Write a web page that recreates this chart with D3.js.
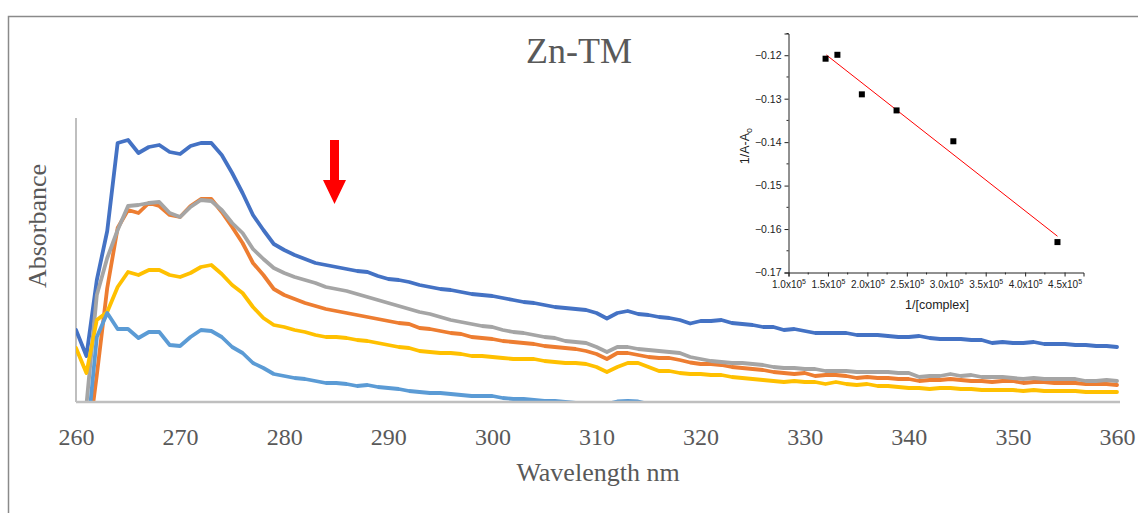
<!DOCTYPE html>
<html>
<head>
  <meta charset="utf-8">
  <title>Zn-TM</title>
  <script src="https://d3js.org/d3.v7.min.js"></script>
  <style>
    body { margin: 0; background: #fff; }
    svg { display: block; }
  </style>
</head>
<body>
<svg id="chart" width="1138" height="513"></svg>
<script>
    // wavelength grid, 1 nm steps
    var wavelengths = d3.range(260, 361);

    // absorbance spectra (260..360 nm)
    var seriesBlue = [0.72,0.46,1.22,1.71,2.59,2.62,2.49,2.55,2.57,2.50,2.48,2.56,2.59,2.59,2.47,2.29,2.09,1.87,1.72,1.58,
        1.52,1.47,1.43,1.39,1.37,1.35,1.33,1.31,1.30,1.26,1.23,1.22,1.20,1.17,1.15,1.13,1.12,1.10,1.08,1.07,
        1.06,1.04,1.02,1.00,0.99,0.97,0.95,0.94,0.93,0.92,0.89,0.835,0.89,0.91,0.88,0.87,0.85,0.84,0.82,0.785,
        0.81,0.81,0.82,0.79,0.78,0.77,0.75,0.75,0.72,0.73,0.71,0.69,0.69,0.69,0.69,0.67,0.67,0.67,0.66,0.65,
        0.65,0.66,0.64,0.63,0.63,0.63,0.62,0.62,0.59,0.60,0.59,0.59,0.60,0.58,0.58,0.58,0.57,0.57,0.56,0.56,0.55];
    var seriesOrange = [-0.78,-0.54,0.27,1.14,1.74,1.92,1.89,1.99,1.96,1.87,1.85,1.96,2.03,2.03,1.90,1.75,1.59,1.39,1.27,1.13,
        1.07,1.03,0.99,0.96,0.93,0.91,0.89,0.87,0.85,0.83,0.81,0.79,0.78,0.74,0.73,0.71,0.69,0.68,0.65,0.64,
        0.63,0.61,0.60,0.59,0.58,0.56,0.55,0.54,0.53,0.51,0.48,0.43,0.49,0.49,0.47,0.45,0.44,0.44,0.42,0.395,
        0.38,0.38,0.37,0.35,0.34,0.33,0.32,0.30,0.29,0.28,0.29,0.26,0.27,0.27,0.26,0.24,0.25,0.24,0.24,0.23,
        0.23,0.21,0.22,0.22,0.23,0.22,0.21,0.21,0.20,0.21,0.21,0.19,0.20,0.20,0.19,0.19,0.19,0.18,0.18,0.18,0.17];
    var seriesGray = [-0.38,-0.03,1.07,1.44,1.72,1.96,1.97,1.99,2.00,1.89,1.85,1.95,2.02,2.01,1.92,1.79,1.69,1.53,1.43,1.34,
        1.29,1.25,1.22,1.19,1.15,1.13,1.11,1.08,1.05,1.02,0.99,0.96,0.93,0.90,0.88,0.85,0.82,0.80,0.78,0.76,
        0.75,0.72,0.70,0.69,0.67,0.65,0.64,0.61,0.60,0.59,0.55,0.50,0.55,0.55,0.53,0.52,0.51,0.50,0.49,0.45,
        0.43,0.41,0.40,0.39,0.39,0.38,0.37,0.35,0.34,0.34,0.33,0.33,0.31,0.31,0.31,0.30,0.30,0.30,0.30,0.29,
        0.29,0.25,0.26,0.26,0.28,0.26,0.27,0.25,0.25,0.25,0.24,0.23,0.24,0.23,0.23,0.23,0.23,0.21,0.21,0.22,0.21];
    var seriesYellow = [0.54,0.29,0.82,0.90,1.15,1.30,1.27,1.32,1.32,1.27,1.25,1.29,1.35,1.37,1.28,1.17,1.09,0.95,0.84,0.77,
        0.75,0.72,0.70,0.67,0.65,0.65,0.64,0.62,0.61,0.59,0.57,0.55,0.54,0.51,0.50,0.49,0.49,0.48,0.46,0.46,
        0.45,0.44,0.43,0.43,0.43,0.41,0.40,0.39,0.39,0.38,0.35,0.30,0.35,0.39,0.39,0.35,0.31,0.31,0.29,0.28,
        0.28,0.27,0.27,0.25,0.24,0.23,0.22,0.21,0.20,0.21,0.20,0.20,0.18,0.20,0.18,0.17,0.18,0.16,0.16,0.15,
        0.14,0.14,0.13,0.14,0.14,0.13,0.13,0.12,0.12,0.12,0.12,0.11,0.12,0.11,0.11,0.11,0.11,0.10,0.10,0.10,0.10];
    var seriesLightBlue = [-0.28,-0.43,0.65,0.89,0.73,0.73,0.64,0.70,0.70,0.57,0.56,0.65,0.72,0.71,0.65,0.55,0.49,0.39,0.34,0.28,
        0.26,0.24,0.23,0.21,0.19,0.19,0.18,0.16,0.17,0.15,0.14,0.13,0.11,0.10,0.09,0.09,0.08,0.07,0.06,0.06,
        0.06,0.04,0.03,0.03,0.02,0.01,0.01,0.00,-0.01,-0.02,-0.03,-0.02,0.005,0.01,0.005,-0.02,-0.04,-0.05,-0.05,-0.06,
        -0.06,-0.07,-0.07,-0.08,-0.08,-0.09,-0.09,-0.10,-0.10,-0.10,-0.11,-0.11,-0.12,-0.12,-0.12,-0.13,-0.13,-0.13,-0.14,-0.14,
        -0.14,-0.15,-0.15,-0.15,-0.15,-0.16,-0.16,-0.16,-0.16,-0.17,-0.17,-0.17,-0.17,-0.18,-0.18,-0.18,-0.18,-0.18,-0.19,-0.19,-0.19];

    var seriesColors = ["#4472C4", "#ED7D31", "#A5A5A5", "#FFC000", "#5B9BD5"];
    var xTicks = [260, 270, 280, 290, 300, 310, 320, 330, 340, 350, 360];

    // inset: Benesi-Hildebrand style plot
    var insetX = [1.47e5, 1.62e5, 1.93e5, 2.37e5, 3.09e5, 4.41e5];
    var insetY = [-0.1208, -0.1199, -0.1290, -0.1327, -0.1398, -0.1630];
    var insetXTicks = [1.0e5, 1.5e5, 2.0e5, 2.5e5, 3.0e5, 3.5e5, 4.0e5, 4.5e5];
    var insetYTicks = [-0.17, -0.16, -0.15, -0.14, -0.13, -0.12];

    var svg = d3.select("#chart");
    var serif = "'Liberation Serif', 'Times New Roman', serif";
    var sans = "'Liberation Sans', Arial, sans-serif";
    var textGray = "#595959";

    // outer frame (only top and left edges are visible in the crop)
    svg.append("path")
        .attr("d", "M8.5,513 L8.5,16.5 L1138,16.5")
        .attr("fill", "none")
        .attr("stroke", "#8a8a8a")
        .attr("stroke-width", 1.5);

    var plot = {left: 76, right: 1117, top: 118, bottom: 402};

    var x = d3.scaleLinear()
        .domain([260, 360])
        .range([plot.left, plot.right]);

    var y = d3.scaleLinear()
        .domain([0, 2.84])
        .range([plot.bottom, plot.top]);

    svg.append("defs").append("clipPath")
        .attr("id", "clip")
        .append("rect")
        .attr("x", plot.left)
        .attr("y", plot.top - 5)
        .attr("width", plot.right - plot.left + 5)
        .attr("height", plot.bottom - plot.top + 5);

    // title
    svg.append("text")
        .attr("x", 579)
        .attr("y", 63)
        .attr("text-anchor", "middle")
        .attr("font-family", serif)
        .attr("font-size", 36)
        .attr("fill", textGray)
        .text("Zn-TM");

    // y axis line (no ticks)
    svg.append("line")
        .attr("x1", plot.left).attr("x2", plot.left)
        .attr("y1", plot.top).attr("y2", plot.bottom)
        .attr("stroke", "#BFBFBF")
        .attr("stroke-width", 2);

    var lines = [seriesBlue, seriesOrange, seriesGray, seriesYellow, seriesLightBlue];

    var line = d3.line()
        .x((d, i) => x(wavelengths[i]))
        .y(d => y(d));

    svg.append("g")
        .attr("clip-path", "url(#clip)")
        .selectAll("path")
        .data(lines)
        .join("path")
        .attr("fill", "none")
        .attr("stroke", (d, i) => seriesColors[i])
        .attr("stroke-width", 3.8)
        .attr("stroke-linejoin", "round")
        .attr("stroke-linecap", "round")
        .attr("d", line);

    // x axis
    var xAxis = svg.append("g")
        .attr("transform", `translate(0,${plot.bottom})`)
        .call(d3.axisBottom(x)
            .tickValues(xTicks)
            .tickSize(0)
            .tickPadding(26)
            .tickFormat(d3.format("d")));
    xAxis.select(".domain")
        .attr("stroke", "#BFBFBF")
        .attr("stroke-width", 2.5)
        .attr("d", `M${plot.left},0H${plot.right + 3}`);
    xAxis.selectAll("text")
        .attr("font-family", serif)
        .attr("font-size", 24)
        .attr("fill", textGray);

    svg.append("text")
        .attr("x", 598)
        .attr("y", 481)
        .attr("text-anchor", "middle")
        .attr("font-family", serif)
        .attr("font-size", 26)
        .attr("fill", textGray)
        .text("Wavelength nm");

    svg.append("text")
        .attr("transform", "translate(46,226) rotate(-90)")
        .attr("text-anchor", "middle")
        .attr("font-family", serif)
        .attr("font-size", 26)
        .attr("fill", textGray)
        .text("Absorbance");

    // red arrow
    svg.append("path")
        .attr("d", "M330,140 L339,140 L339,180 L346,180 L334.5,204 L323,180 L330,180 Z")
        .attr("fill", "#FF0000");

    // ---------- inset ----------
    var ix = d3.scaleLinear()
        .domain([1.0e5, 4.74e5])
        .range([788.5, 1083.5]);

    var iy = d3.scaleLinear()
        .domain([-0.17, -0.115])
        .range([272.5, 33.5]);

    var gx = svg.append("g")
        .attr("transform", "translate(0,272.5)")
        .call(d3.axisBottom(ix)
            .tickValues(insetXTicks)
            .tickSizeOuter(0)
            .tickSize(4)
            .tickPadding(4)
            .tickFormat(() => ""));
    gx.selectAll(".tick text").each(function (d) {
        var t = d3.select(this);
        t.append("tspan").text((d / 1e5).toFixed(1) + "x10");
        t.append("tspan").attr("dy", -4).attr("font-size", 7).text("5");
    });
    gx.selectAll(".tick text")
        .attr("font-family", sans)
        .attr("font-size", 10)
        .attr("fill", "#222");
    gx.selectAll(".tick line").attr("stroke", "#222");
    gx.select(".domain").attr("stroke", "#222");

    // minor ticks on the inset x axis
    svg.append("g")
        .selectAll("line")
        .data(d3.range(1.25e5, 4.74e5, 0.5e5))
        .join("line")
        .attr("x1", d => ix(d)).attr("x2", d => ix(d))
        .attr("y1", 272.5).attr("y2", 274.5)
        .attr("stroke", "#222");

    var gy = svg.append("g")
        .attr("transform", "translate(788.5,0)")
        .call(d3.axisLeft(iy)
            .tickValues(insetYTicks)
            .tickSizeOuter(0)
            .tickSize(4)
            .tickPadding(3)
            .tickFormat(d3.format(".2f")));
    gy.selectAll(".tick text")
        .attr("font-family", sans)
        .attr("font-size", 10.5)
        .attr("fill", "#222");
    gy.selectAll(".tick line").attr("stroke", "#222");
    gy.select(".domain").attr("stroke", "#222");

    svg.append("g")
        .selectAll("line")
        .data(d3.range(-0.165, -0.114, 0.01))
        .join("line")
        .attr("x1", 786.5).attr("x2", 788.5)
        .attr("y1", d => iy(d)).attr("y2", d => iy(d))
        .attr("stroke", "#222");

    svg.append("text")
        .attr("x", 937)
        .attr("y", 309)
        .attr("text-anchor", "middle")
        .attr("font-family", sans)
        .attr("font-size", 12.5)
        .attr("fill", "#222")
        .text("1/[complex]");

    var ylab = svg.append("text")
        .attr("transform", "translate(749,146) rotate(-90)")
        .attr("text-anchor", "middle")
        .attr("font-family", sans)
        .attr("font-size", 12.5)
        .attr("fill", "#222");
    ylab.append("tspan").text("1/A-A");
    ylab.append("tspan").attr("dy", 3).attr("font-size", 9).text("o");

    // least squares fit line through the inset points
    var fit = (function () {
        var mx = d3.mean(insetX), my = d3.mean(insetY);
        var sxy = d3.sum(insetX, (v, i) => (v - mx) * (insetY[i] - my));
        var sxx = d3.sum(insetX, v => (v - mx) * (v - mx));
        var slope = sxy / sxx;
        return v => my + slope * (v - mx);
    })();
    var fitX = [d3.min(insetX) + 0.01e5, d3.max(insetX)];

    svg.append("line")
        .attr("x1", ix(fitX[0])).attr("y1", iy(fit(fitX[0])))
        .attr("x2", ix(fitX[1])).attr("y2", iy(fit(fitX[1])))
        .attr("stroke", "#FF0000")
        .attr("stroke-width", 1);

    svg.append("g")
        .selectAll("rect")
        .data(insetX)
        .join("rect")
        .attr("x", (d) => ix(d) - 3)
        .attr("y", (d, i) => iy(insetY[i]) - 3)
        .attr("width", 6)
        .attr("height", 6)
        .attr("fill", "#000");
</script>
</body>
</html>
